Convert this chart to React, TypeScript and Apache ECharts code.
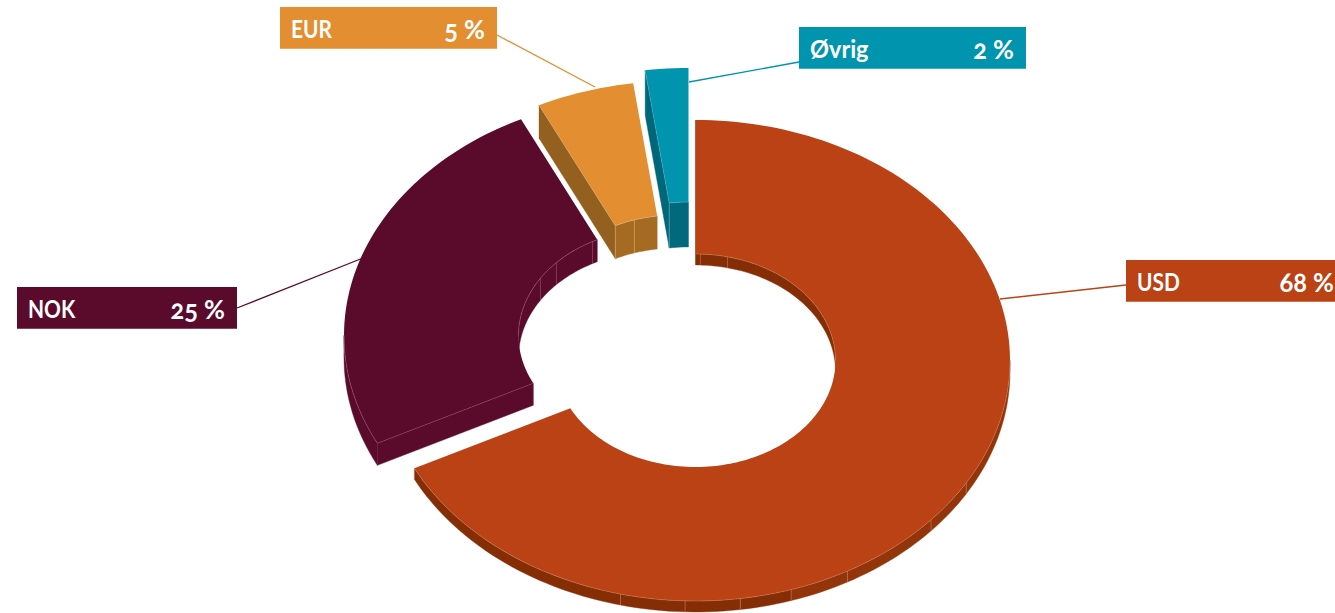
import React, { useEffect, useRef } from "react";
import * as echarts from "echarts";

const categories = ["USD", "NOK", "EUR", "Øvrig"];
const shares = [67.6, 25.2, 5.0, 2.2];

const topColors = ["#BA4214", "#5A0B2C", "#E28E31", "#0094AE"];
const faceColors = ["#862F06", "#5A0B2C", "#94601F", "#00677B"];
const wallColors = ["#8A3107", "#5A0B2C", "#A56B23", "#006A7C"];
const seamColors = ["#D98F6E", "#A8708A", "#E8C9A0", "#8CCBD6"];
const offsetsX = [0, -37, -19, -7];
const offsetsY = [0, -25, -39, -52];
const depths = [11, 22, 33, 45];
const outerSeams = [[120.6, 131.5, 151.1, 162.3, 171.8, 181.9, 193.8], [], [], []];
const innerSeams = [[2, 13.2], [302.5, 313.2, 331.9], [342.5], []];
const boxX = [1126, 17, 280, 799];
const boxY = [260, 287, 7, 27];
const boxW = [220, 220, 217, 227];
const leadEndX = [1000, 363, 595, 689];
const leadEndY = [299, 258, 87, 82];
const leadStartX = [1126, 237, 497, 799];
const leadStartY = [285, 308, 35, 62];

const CX = 695.5, CY = 360.5, RX = 314.5, RY = 240.5, IX = 140, IY = 106.5;
const FONT = "Lato";
const rad = (a: number) => (a * Math.PI) / 180;

function arc(i: number, rx: number, ry: number, a0: number, a1: number, dy = 0) {
  const pts: number[][] = [];
  const n = Math.max(2, Math.ceil(Math.abs(a1 - a0) / 1.5));
  for (let k = 0; k <= n; k++) {
    const a = rad(a0 + ((a1 - a0) * k) / n);
    pts.push([CX + offsetsX[i] + rx * Math.sin(a), CY + offsetsY[i] - ry * Math.cos(a) + dy]);
  }
  return pts;
}

function wall(i: number, rx: number, ry: number, a0: number, a1: number, fill: string) {
  const top = arc(i, rx, ry, a0, a1);
  const bot = arc(i, rx, ry, a1, a0, depths[i]);
  return { type: "polygon", shape: { points: [...top, ...bot] }, style: { fill, stroke: fill, lineWidth: 0.4 } };
}

function seam(i: number, rx: number, ry: number, a: number) {
  const p = arc(i, rx, ry, a, a + 0.001)[0];
  return {
    type: "line",
    shape: { x1: p[0], y1: p[1], x2: p[0], y2: p[1] + depths[i] },
    style: { stroke: seamColors[i], lineWidth: 0.6, opacity: 0.8 },
  };
}

function renderItem(params: any, api: any) {
  const i = params.dataIndex;
  const total = shares.reduce((s, v) => s + v, 0);
  const before = shares.slice(0, i).reduce((s, v) => s + v, 0);
  const a0 = (before / total) * 360;
  const a1 = ((before + api.value(0)) / total) * 360;
  const children: any[] = [];

  // leader line
  children.push({
    type: "line",
    shape: { x1: leadStartX[i], y1: leadStartY[i], x2: leadEndX[i], y2: leadEndY[i] },
    style: { stroke: topColors[i], lineWidth: 1.3 },
  });

  // radial start face
  const oS = arc(i, RX, RY, a0, a0 + 0.001)[0];
  const iS = arc(i, IX, IY, a0, a0 + 0.001)[0];
  const d = depths[i];
  children.push({
    type: "polygon",
    shape: { points: [oS, iS, [iS[0], iS[1] + d], [oS[0], oS[1] + d]] },
    style: { fill: faceColors[i], stroke: faceColors[i], lineWidth: 0.4 },
  });

  // outer wall (front half)
  const o0 = Math.max(a0, 90), o1 = Math.min(a1, 270);
  if (o1 > o0) {
    const cuts = [o0, ...outerSeams[i].filter((s) => s > o0 && s < o1), o1];
    for (let k = 0; k + 1 < cuts.length; k++) {
      const mid = (cuts[k] + cuts[k + 1]) / 2;
      const fill = i === 0 ? (mid < 165 ? "#93350A" : "#852E05") : faceColors[i];
      children.push(wall(i, RX, RY, cuts[k], cuts[k + 1], fill));
    }
  }
  // inner wall (back half)
  const ranges = [[a0, Math.min(a1, 90)], [Math.max(a0, 270), a1]];
  ranges.forEach(([r0, r1]) => {
    if (r1 > r0) {
      children.push(wall(i, IX, IY, r0, r1, i === 0 && r0 < 20 ? "#852E05" : wallColors[i]));
    }
  });

  // top face
  const top = [...arc(i, RX, RY, a0, a1), ...arc(i, IX, IY, a1, a0)];
  children.push({ type: "polygon", shape: { points: top }, style: { fill: topColors[i] } });

  // light edge lines
  if (o1 > o0) {
    children.push({
      type: "polyline",
      shape: { points: arc(i, RX, RY, o0, o1) },
      style: { stroke: seamColors[i], lineWidth: 0.6, opacity: 0.7, fill: "none" },
    });
    children.push(seam(i, RX, RY, o1));
  }
  ranges.forEach(([r0, r1]) => {
    if (r1 > r0) {
      children.push({
        type: "polyline",
        shape: { points: arc(i, IX, IY, r0, r1) },
        style: { stroke: seamColors[i], lineWidth: 0.6, opacity: 0.7, fill: "none" },
      });
    }
  });
  children.push({
    type: "line",
    shape: { x1: oS[0], y1: oS[1], x2: iS[0], y2: iS[1] },
    style: { stroke: seamColors[i], lineWidth: 0.5, opacity: i === 0 ? 0 : 0.6 },
  });
  children.push({
    type: "line",
    shape: { x1: iS[0], y1: iS[1], x2: iS[0], y2: iS[1] + d },
    style: { stroke: seamColors[i], lineWidth: 0.6, opacity: 0.7 },
  });
  outerSeams[i].forEach((s) => children.push(seam(i, RX, RY, s)));
  innerSeams[i].forEach((s) => children.push(seam(i, IX, IY, s)));

  // label box
  children.push({
    type: "rect",
    shape: { x: boxX[i], y: boxY[i], width: boxW[i], height: 41.7 },
    style: { fill: topColors[i] },
  });
  children.push({
    type: "text",
    x: boxX[i] + 11,
    y: boxY[i] + 22,
    scaleX: i === 3 ? 0.98 : 0.87,
    style: {
      text: categories[i],
      x: 0,
      y: 0,
      fill: "#FFFFFF",
      fontFamily: FONT,
      fontWeight: 700,
      fontSize: 24,
      align: "left",
      verticalAlign: "middle",
    },
  });
  children.push({
    type: "text",
    x: boxX[i] + boxW[i] - 12,
    y: boxY[i] + 22,
    scaleX: 0.98,
    style: {
      text: `${Math.round(api.value(0))} %`,
      x: 0,
      y: 0,
      fill: "#FFFFFF",
      fontFamily: FONT,
      fontWeight: 700,
      fontSize: 26,
      align: "right",
      verticalAlign: "middle",
    },
  });
  return { type: "group", children };
}

export default function App() {
  const ref = useRef<HTMLDivElement>(null);
  useEffect(() => {
    document.body.style.margin = "0";
    const chart = echarts.init(ref.current!, undefined, { renderer: "svg" });
    chart.setOption({
      animation: false,
      backgroundColor: "#FFFFFF",
      series: [
        {
          type: "custom",
          coordinateSystem: "none",
          clip: false,
          renderItem,
          data: shares.map((v) => [v]),
        },
      ],
    });
    return () => chart.dispose();
  }, []);
  return (
    <div
      ref={ref}
      style={{ width: 1335, height: 613, fontFeatureSettings: '"onum"', overflow: "hidden" }}
    />
  );
}
